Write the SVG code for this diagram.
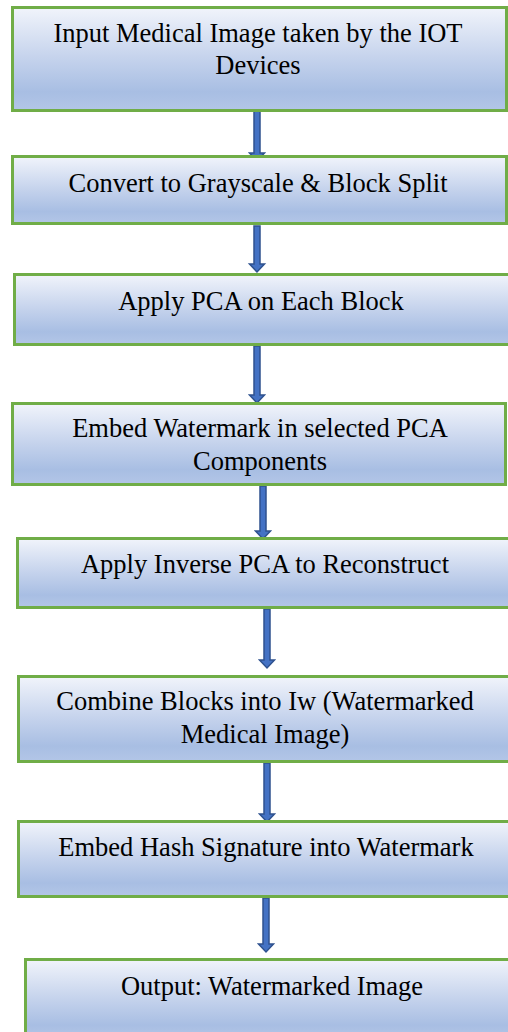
<svg xmlns="http://www.w3.org/2000/svg" width="508" height="1032" viewBox="0 0 508 1032">
<defs>
<linearGradient id="g" x1="0" y1="0" x2="0" y2="1">
<stop offset="0" stop-color="#f1f4fb"/>
<stop offset="0.5" stop-color="#c4d2ec"/>
<stop offset="0.82" stop-color="#a8bee3"/>
<stop offset="1" stop-color="#b3c6e7"/>
</linearGradient>
<style>
.box{fill:url(#g);stroke:#70ad47;stroke-width:3}
.t{font-family:"Liberation Serif","Times New Roman",serif;font-size:26.5px;fill:#000;text-anchor:middle}
.arr{fill:#4472c4;stroke:#2f528f;stroke-width:1.5}
</style>
</defs>
<rect width="508" height="1032" fill="#fff"/>
<g id="connectors">
<polygon class="arr" points="254,111 260,111 260,153 264.5,153 257,161 249.5,153 254,153"/>
<polygon class="arr" points="254,226 260,226 260,264 264.5,264 257,272 249.5,264 254,264"/>
<polygon class="arr" points="254,346 260,346 260,395 264.5,395 257,403 249.5,395 254,395"/>
<polygon class="arr" points="260,486 266,486 266,531 270.5,531 263,539 255.5,531 260,531"/>
<polygon class="arr" points="264,609 270,609 270,660 274.5,660 267,668 259.5,660 264,660"/>
<polygon class="arr" points="264,763 270,763 270,814 274.5,814 267,822 259.5,814 264,814"/>
<polygon class="arr" points="263,898 269,898 269,944 273.5,944 266,952 258.5,944 263,944"/>
</g>
<g id="n1"><rect class="box" x="12.5" y="7.5" width="494" height="103"/>
<text class="t" x="258" y="42">Input Medical Image taken by the IOT</text>
<text class="t" x="258" y="74">Devices</text></g>
<g id="n2"><rect class="box" x="12.5" y="156.5" width="494" height="67"/>
<text class="t" x="258" y="192">Convert to Grayscale &amp; Block Split</text></g>
<g id="n3"><rect class="box" x="14.5" y="274.5" width="496" height="70"/>
<text class="t" x="261" y="310">Apply PCA on Each Block</text></g>
<g id="n4"><rect class="box" x="12.5" y="403.5" width="493" height="81"/>
<text class="t" x="260" y="437">Embed Watermark in selected PCA</text>
<text class="t" x="260" y="470">Components</text></g>
<g id="n5"><rect class="box" x="17.5" y="538.5" width="496" height="69"/>
<text class="t" x="265" y="573">Apply Inverse PCA to Reconstruct</text></g>
<g id="n6"><rect class="box" x="18.5" y="676.5" width="496" height="85"/>
<text class="t" x="265" y="710">Combine Blocks into Iw (Watermarked</text>
<text class="t" x="265" y="743">Medical Image)</text></g>
<g id="n7"><rect class="box" x="18.5" y="821.5" width="496" height="75"/>
<text class="t" x="266" y="856">Embed Hash Signature into Watermark</text></g>
<g id="n8"><rect class="box" x="25.5" y="959.5" width="496" height="80"/>
<text class="t" x="272" y="995">Output: Watermarked Image</text></g>
</svg>
